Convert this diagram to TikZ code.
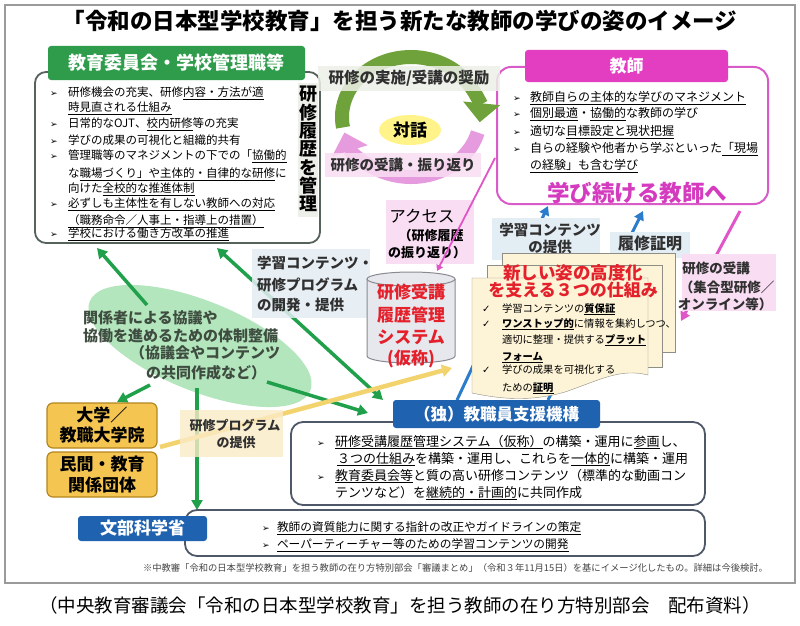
\documentclass[tikz,border=0pt]{standalone}
\usepackage{fontspec}
\setmainfont{Noto Sans CJK JP}
\newfontfamily\dv{DejaVu Sans}
\usetikzlibrary{arrows.meta,shapes.geometric}
\definecolor{frame}{HTML}{9A9A9A}
\definecolor{hgreen}{HTML}{2F9C4C}
\definecolor{lborder}{HTML}{56635A}
\definecolor{hmag}{HTML}{E33DC2}
\definecolor{pborder}{HTML}{D85BC8}
\definecolor{ptext}{HTML}{D43BBE}
\definecolor{garc}{HTML}{6FA23A}
\definecolor{parc}{HTML}{E59BDE}
\definecolor{hblue}{HTML}{1E62B0}
\definecolor{barrow}{HTML}{2B7CCB}
\definecolor{bborder}{HTML}{4E5868}
\definecolor{yfill}{HTML}{F5C552}
\definecolor{yborder}{HTML}{B4871E}
\definecolor{docfill}{HTML}{FDF3D6}
\definecolor{docline}{HTML}{8E8E86}
\definecolor{garrow}{HTML}{20A04A}
\definecolor{ellfill}{HTML}{B4E6BE}
\definecolor{yline}{HTML}{F3D36E}
\definecolor{lblue}{HTML}{E3EDF4}
\definecolor{lyellow}{HTML}{FBEBC6}
\definecolor{lgray}{HTML}{EDF0E8}
\definecolor{lpink}{HTML}{F9DDF3}
\definecolor{redt}{HTML}{E4202B}
\definecolor{cylfill}{HTML}{E7E8EE}
\definecolor{cylline}{HTML}{8A8A90}
\definecolor{ellt}{HTML}{3E4D40}
\definecolor{pkline}{HTML}{E055C8}
\definecolor{darkt}{HTML}{303030}
\definecolor{glowc}{HTML}{FFF38A}
\definecolor{notet}{HTML}{444444}
\newcommand\fs[1]{\fontsize{#1}{#1}\selectfont}
\newcommand\un[1]{\underline{#1}}
\newcommand\bl[1]{\makebox[#1][l]{\dv\fontsize{9}{9}\selectfont ➢}}
\newcommand\ck{\makebox[20pt][l]{\dv\fontsize{10}{10}\selectfont ✓}}
\newcounter{tn}
\newcommand\T[3][]{\stepcounter{tn}\node[tx,#1] (t\arabic{tn}) at (#2) {#3};}
\begin{document}
\begin{tikzpicture}[x=1pt,y=-1pt,
  tx/.style={anchor=base west,inner sep=0pt,outer sep=0pt},
  tc/.style={anchor=base,inner sep=0pt,outer sep=0pt},
  lt/.style={tx,font=\fs{11.5}},
  pt/.style={tx,font=\fs{12}},
  bt/.style={tx,font=\fs{13}},
  mt/.style={tx,font=\fs{11.7}},
  dt/.style={tx,font=\fs{10.3}},
  hdr/.style={rounded corners=3pt,text=white,inner sep=0pt},
  rbox/.style={draw,rounded corners=11pt,fill=white,inner sep=0pt},
  bgbox/.style={inner sep=0pt,outer sep=0pt},
  garr/.style={draw=garrow,line width=3.5pt,-{Triangle[width=11pt,length=10pt]}},
  barr/.style={draw=barrow,line width=3pt,-{Triangle[width=10pt,length=9pt]}}]
\useasboundingbox (0,0) rectangle (800,626);
\fill[white] (0,0) rectangle (800,626);
\node[draw=frame,line width=1.2pt,minimum width=790pt,minimum height=578pt,inner sep=0pt] (frame) at (400,294) {};

% title
\node[tc,font=\fs{22.5}\bfseries] (title) at (400,30) {「令和の日本型学校教育」を担う新たな教師の学びの姿のイメージ};

% left box
\node[rbox,draw=lborder,line width=1.8pt,minimum width=285pt,minimum height=171pt] (lbox) at (177.5,157.5) {};
\node[bgbox,fill=lgray,minimum width=20pt,minimum height=134pt] (vbg) at (308,150) {};
\node[font=\fontsize{18}{18.3}\selectfont\bfseries,align=center,inner sep=0pt] (vt) at (308,149) {研\\修\\履\\歴\\を\\管\\理};
\node[hdr,fill=hgreen,minimum width=257pt,minimum height=34pt,font=\fs{18}\bfseries] (lhdr) at (176.5,63) {教育委員会・学校管理職等};
\T[lt]{50,96.4}{\bl{18pt}研修機会の充実、研修\un{内容・方法が適}}
\T[lt]{68,111.4}{\un{時見直される仕組み}}
\T[lt]{50,127.4}{\bl{18pt}日常的なOJT、\un{校内研修}等の充実}
\T[lt]{50,144.4}{\bl{18pt}学びの成果の可視化と組織的共有}
\T[lt]{50,159.4}{\bl{18pt}管理職等のマネジメントの下での「\un{協働的}}
\T[lt]{68,177.4}{な\un{職場づくり」や主体的・自律的な研修}に}
\T[lt]{68,192.4}{向けた\un{全校的な推進体制}}
\T[lt]{50,207.4}{\bl{18pt}\un{必ずしも主体性を有しない教師への対応}}
\T[lt]{68,224.4}{\un{（職務命令／人事上・指導上の措置）}}
\T[lt]{50,237.4}{\bl{18pt}\un{学校における働き方改革の推進}}

% teacher box
\node[rbox,draw=pborder,line width=2pt,rounded corners=14pt,minimum width=271pt,minimum height=137pt] (pbox) at (632.5,135.5) {};
\node[hdr,fill=hmag,minimum width=203pt,minimum height=32pt,font=\fs{17}\bfseries] (phdr) at (626.5,66) {教師};
\T[pt]{513,101.6}{\bl{17pt}\un{教師自らの主体的な学びのマネジメント}}
\T[pt]{513,117.6}{\bl{17pt}\un{個別最適}・\un{協働的}な教師の学び}
\T[pt]{513,135.6}{\bl{17pt}適切な\un{目標設定と現状把握}}
\T[pt]{513,152.6}{\bl{17pt}自らの経験や他者から学ぶといった\un{「現場}}
\T[pt]{530,169.6}{\un{の経験」も含む学び}}
\T[tc,font=\fs{22.5}\bfseries,text=ptext]{637,201.5}{学び続ける教師へ}

% cycle
\begin{scope}[shift={(411,117)}]
\draw[garc,line width=14pt,-{Triangle[width=36pt,length=19pt]}] (190:69pt and 60pt) arc[start angle=190,end angle=-5,x radius=69pt,y radius=60pt];
\draw[parc,line width=14pt,-{Triangle[width=36pt,length=19pt]}] (-15:69pt and 60pt) arc[start angle=-15,end angle=-165,x radius=69pt,y radius=60pt];
\end{scope}
\node[bgbox,fill=lgray,opacity=0.85,minimum width=182pt,minimum height=25pt] (band1) at (409,78.5) {};
\T[tc,font=\fs{15.5}\bfseries,text=darkt]{409,84}{研修の実施/受講の奨励}
\node[ellipse,fill=glowc,minimum width=62pt,minimum height=30pt,inner sep=0pt] (glow) at (410,130) {};
\T[tc,font=\fs{17}\bfseries]{410,136.5}{対話}
\node[bgbox,fill=lpink,opacity=0.85,minimum width=156pt,minimum height=24pt] (band2) at (403,165) {};
\T[tc,font=\fs{14.5}\bfseries,text=darkt]{403,170.5}{研修の受講・振り返り}

% green ellipse
\node[ellipse,fill=ellfill,minimum width=238pt,minimum height=90pt,rotate=-22,inner sep=0pt] (ell) at (200,346) {};

% connectors
\coordinate (g1s) at (147,305); \coordinate (g1e) at (97,248);
\coordinate (g2s) at (217,248); \coordinate (g2e) at (383,400);
\coordinate (g3s) at (267,382); \coordinate (g3e) at (368,413);
\coordinate (g4s) at (150,385); \coordinate (g4e) at (117,402);
\coordinate (g5s) at (197,388); \coordinate (g5e) at (197,510);
\coordinate (y1s) at (160,447); \coordinate (y1e) at (452,368);
\coordinate (b1s) at (457,400); \coordinate (b1e) at (548,206);
\coordinate (b2s) at (548,400); \coordinate (b2e) at (643,211);
\coordinate (m1s) at (740,211); \coordinate (m1e) at (681,321);
\draw[garr] (g1s) -- (g1e);
\draw[garr,{Triangle[width=11pt,length=10pt]}-{Triangle[width=11pt,length=10pt]}] (g2s) -- (g2e);
\draw[garr] (g3s) -- (g3e);
\draw[garr] (g4s) -- (g4e);
\draw[garr] (g5s) -- (g5e);
\draw[draw=yline,line width=4.5pt,-{Triangle[width=12pt,length=10pt]}] (y1s) -- (y1e);
\draw[barr] (b1s) -- (b1e);
\draw[barr] (b2s) -- (b2e);
\draw[draw=pkline,line width=3pt,-{Triangle[width=10pt,length=9pt]}] (m1s) -- (m1e);

% access label and thin pink line
\node[bgbox,fill=lpink,minimum width=88pt,minimum height=64pt] (acbg) at (430,232) {};
\T[tc,font=\fs{16.5}]{422,222}{アクセス}
\T[tc,font=\fs{13}\bfseries]{431,240}{（研修履歴}
\T[tc,font=\fs{13}\bfseries]{427,257}{の振り返り）}
\coordinate (pl1) at (495,158); \coordinate (pl2) at (437,271);
\draw[draw=pkline,line width=1.8pt,-{Triangle[width=7pt,length=6pt]}] (pl1) -- (pl2);

% label boxes
\node[bgbox,fill=lblue,opacity=0.85,minimum width=118pt,minimum height=69pt] (lab1) at (311,283.5) {};
\T[tx,font=\fs{14.5}\bfseries,text=darkt]{257,268.5}{学習コンテンツ・}
\T[tx,font=\fs{14.5}\bfseries,text=darkt]{257,290.5}{研修プログラム}
\T[tx,font=\fs{14.5}\bfseries,text=darkt]{257,310.5}{の開発・提供}
\node[bgbox,fill=lyellow,opacity=0.8,minimum width=103pt,minimum height=47pt] (lab2) at (231.5,433.5) {};
\T[tc,font=\fs{13}\bfseries,text=darkt]{235,430}{研修プログラム}
\T[tc,font=\fs{13}\bfseries,text=darkt]{236,447}{の提供}
\node[bgbox,fill=lblue,minimum width=108pt,minimum height=42pt] (lab3) at (546,239) {};
\T[tc,font=\fs{14.5}\bfseries,text=darkt]{550,235.5}{学習コンテンツ}
\T[tc,font=\fs{14.5}\bfseries,text=darkt]{550,252.5}{の提供}
\node[bgbox,fill=lblue,minimum width=80pt,minimum height=26pt] (lab4) at (650,245) {};
\T[tc,font=\fs{16}\bfseries,text=darkt]{650,249}{履修証明}
\node[bgbox,fill=lpink,minimum width=94pt,minimum height=57pt] (lab5) at (729,282.5) {};
\T[tc,font=\fs{13.5}\bfseries,text=darkt]{716,273}{研修の受講}
\T[tc,font=\fs{13.5}\bfseries,text=darkt]{727,292}{（集合型研修／}
\T[tc,font=\fs{13.5}\bfseries,text=darkt]{725,309}{オンライン等）}

% ellipse text
\T[tx,font=\fs{15}\bfseries,text=ellt]{83,323.7}{関係者による協議や}
\T[tx,font=\fs{15}\bfseries,text=ellt]{83,341.7}{協働を進めるための体制整備}
\T[tc,font=\fs{15}\bfseries,text=ellt]{205,358.7}{（協議会やコンテンツ}
\T[tc,font=\fs{15}\bfseries,text=ellt]{206,378.7}{の共同作成など）}

% cylinder
\fill[cylfill] (367,279) -- (367,356) arc[start angle=180,end angle=360,x radius=44pt,y radius=7pt] -- (455,279) -- cycle;
\draw[cylline,line width=1pt] (367,279) -- (367,356) arc[start angle=180,end angle=360,x radius=44pt,y radius=7pt] -- (455,279);
\draw[cylline,line width=1pt,fill=cylfill] (411,279) ellipse[x radius=44pt,y radius=7pt];
\node[inner sep=0pt,minimum width=88pt,minimum height=92pt] (cyl) at (411,317) {};
\T[tc,font=\fs{17}\bfseries,text=redt]{411,298.5}{研修受講}
\T[tc,font=\fs{17}\bfseries,text=redt]{411,321.5}{履歴管理}
\T[tc,font=\fs{17}\bfseries,text=redt]{411,343.5}{システム}
\T[tc,font=\fs{17}\bfseries,text=redt]{411,364.5}{(仮称)}

% documents
\draw[docline,fill=docfill] (502,253) rectangle (675,352);
\draw[docline,fill=docfill] (487,265) rectangle (662,367);
\draw[docline,fill=docfill] (472,278) -- (648,278) -- (648,375) .. controls (620,368) and (600,380) .. (565,392) .. controls (530,402) and (500,399) .. (472,393) -- cycle;
\node[inner sep=0pt,minimum width=176pt,minimum height=115pt] (docs) at (560,335) {};
\T[tc,font=\fs{17.5}\bfseries,text=redt]{573,279.6}{新しい姿の高度化}
\T[tc,font=\fs{17}\bfseries,text=redt]{573,296.5}{を支える３つの仕組み}
\T[dt]{482,312}{\ck 学習コンテンツの\textbf{\un{質保証}}}
\T[dt]{482,327}{\ck \textbf{\un{ワンストップ的}}に情報を集約しつつ、}
\T[dt]{502,343}{適切に整理・提供する\textbf{\un{プラット}}}
\T[dt]{502,360}{\textbf{\un{フォーム}}}
\T[dt]{482,373}{\ck 学びの成果を可視化する}
\T[dt]{502,391}{ための\textbf{\un{証明}}}

% university / private boxes
\node[draw=yborder,fill=yfill,line width=1.2pt,rounded corners=6pt,minimum width=110pt,minimum height=45pt,inner sep=0pt,align=center,font=\fontsize{17}{20}\selectfont\bfseries] (univ) at (102,425.5) {大学／\\教職大学院};
\node[draw=yborder,fill=yfill,line width=1.2pt,rounded corners=6pt,minimum width=110pt,minimum height=45pt,inner sep=0pt,align=center,font=\fontsize{17}{21}\selectfont\bfseries] (priv) at (102,474.5) {民間・教育\\関係団体};

% NITS box
\node[rbox,draw=bborder,line width=1.8pt,rounded corners=12pt,minimum width=414pt,minimum height=83pt] (nbox) at (498,463.5) {};
\node[hdr,fill=hblue,minimum width=207pt,minimum height=28pt,font=\fs{16.5}\bfseries] (nhdr) at (496.5,414) {（独）教職員支援機構};
\T[bt]{317,446}{\bl{18pt}\un{研修受講履歴管理システム（仮称）}の構築・運用に\un{参画}し、}
\T[bt]{337,463}{\un{３つの仕組み}を構築・運用し、これらを\un{一体的}に構築・運用}
\T[bt]{317,480}{\bl{18pt}\un{教育委員会等}と質の高い研修コンテンツ（標準的な動画コン}
\T[bt]{335,497}{テンツなど）を\un{継続的・計画的}に共同作成}

% MEXT box
\node[rbox,draw=bborder,line width=1.8pt,rounded corners=12pt,minimum width=520pt,minimum height=46pt] (mbox) at (445,533) {};
\node[hdr,fill=hblue,minimum width=129pt,minimum height=25pt,font=\fs{17}\bfseries] (mhdr) at (142.5,528.5) {文部科学省};
\T[mt]{262,531.5}{\bl{15pt}\un{教師の資質能力に関する指針の改正やガイドラインの策定}}
\T[mt]{262,548.5}{\bl{15pt}\un{ペーパーティーチャー等のための学習コンテンツの開発}}

% footnote and caption
\T[tx,anchor=base east,font=\fs{9.3},text=notet]{768,571}{※中教審「令和の日本型学校教育」を担う教師の在り方特別部会「審議まとめ」（令和３年11月15日）を基にイメージ化したもの。詳細は今後検討。}
\T[tc,font=\fs{18.5}]{400,612.5}{（中央教育審議会「令和の日本型学校教育」を担う教師の在り方特別部会　配布資料）}
\end{tikzpicture}
\end{document}
